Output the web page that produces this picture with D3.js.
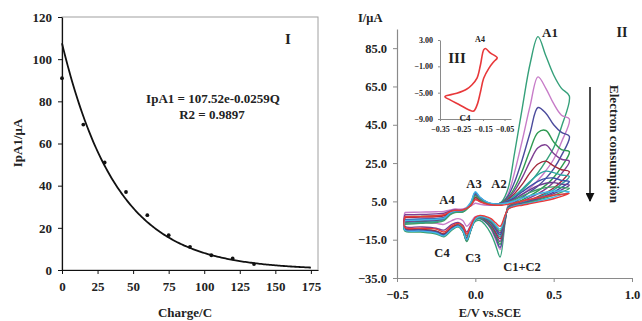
<!DOCTYPE html>
<html>
<head>
<meta charset="utf-8">
<script src="https://cdnjs.cloudflare.com/ajax/libs/d3/7.8.5/d3.min.js"></script>
<style>
  body { margin: 0; background: #fff; }
  svg text { font-family: "Liberation Serif", "Times New Roman", serif; font-weight: bold; fill: #222; }
</style>
</head>
<body>
<div id="chart"></div>
<script>
// ---- panel I : peak current vs charge ----
const charge = [0, 15, 30, 45, 60, 75, 90, 105, 120, 135];
const ipA1 = [91, 69, 51, 37, 26, 16.5, 11, 7, 5.5, 2.8];
const fitA = 107.52, fitK = 0.0259; // IpA1 = 107.52 e^(-0.0259 Q)
const chargeTicks = [0, 25, 50, 75, 100, 125, 150, 175];
const ipTicks = [0, 20, 40, 60, 80, 100, 120];

// ---- panel II : cyclic voltammograms ----
const cvColors = ['#35a07a', '#c77cc8', '#4b4b9c', '#2f9a52', '#7d3e92', '#a32a3c',
                  '#2ba5a2', '#3a4fa8', '#6a3d8f', '#3f9f6a', '#42b5e6', '#e83a3a'];
const eForward = [-0.45, -0.35, -0.25, -0.2, -0.16, -0.13, -0.08, -0.03, 0.0, 0.03, 0.08,
                  0.13, 0.17, 0.21, 0.25, 0.3, 0.35, 0.4, 0.45, 0.5, 0.55, 0.6];
const iForward = [
  [-3, -2.8, -2.5, -2.2, -0.5, 0, 0, 3, 7, 5.5, 3.5, 3, 5, 12, 30, 54, 77, 91, 81, 71, 64, 60],
  [-0.8, -0.6, -0.4, -0.2, 0.5, 1, 1, 2.5, 4, 3.5, 3, 3, 4, 9, 20, 37, 55, 70, 64, 56, 50, 48],
  [-5, -4.5, -4, -3.5, -1, 0, 0, 3.5, 8, 6, 4, 3.5, 4.5, 8, 15, 27, 41, 54, 51, 45, 41, 39],
  [-6, -5.5, -5, -4, -1.5, -0.5, -0.5, 3.5, 8.5, 6, 4, 3.5, 4.5, 7, 12, 21, 32, 41, 42, 36, 32, 31],
  [-2, -1.8, -1.5, -1.2, 0, 0.5, 0.5, 3, 6, 5, 3.5, 3.2, 4, 6.5, 10.5, 17.5, 26, 33, 34.5, 30, 27, 26],
  [-3.5, -3.2, -3, -2.5, -0.5, 0, 0.2, 3, 7, 5.5, 3.8, 3.3, 4, 6, 9, 14, 20, 24.5, 26, 23.5, 21.5, 20.5],
  [-6.5, -6, -5.5, -4.5, -1.5, -0.5, -0.3, 4, 9.5, 7, 4.2, 3.5, 4, 5.5, 8, 11.5, 15.5, 19, 20.8, 20, 18.8, 18],
  [-4.5, -4.2, -4, -3.5, -1, 0, 0.2, 4, 9.5, 7, 4.3, 3.6, 4, 5.2, 7, 10, 13, 15.5, 17, 17.2, 16, 15.3],
  [-5.5, -5.2, -4.8, -4, -1.2, -0.3, 0, 3.5, 8.5, 6.3, 4, 3.4, 3.8, 4.8, 6.3, 8.8, 11.2, 13.2, 14.5, 14.8, 14, 13.5],
  [-7, -6.5, -6, -5, -2, -0.8, -0.5, 3.2, 8, 6, 3.8, 3.2, 3.6, 4.5, 5.8, 7.8, 9.7, 11.2, 12.2, 12.6, 12.2, 11.8],
  [-5, -4.7, -4.3, -3.8, -1, 0, 0.3, 4.5, 10, 7.2, 4.5, 3.7, 3.8, 4.3, 5.2, 6.7, 8, 9, 9.8, 10.3, 10.4, 10],
  [-3, -2.8, -2.5, -2, -0.3, 0.3, 0.5, 2.8, 6, 4.8, 3.5, 3, 3, 3.5, 4.2, 5.2, 6.1, 6.9, 7.6, 8.2, 8.7, 9.2]
];
const eReverse = [0.55, 0.5, 0.45, 0.4, 0.35, 0.3, 0.25, 0.21, 0.19, 0.158, 0.13, 0.1, 0.06,
                  0.03, 0.0, -0.03, -0.055, -0.08, -0.11, -0.15, -0.2, -0.25, -0.35, -0.45];
const iReverse = [
  [44, 33, 26, 20, 15, 11, 7, 3, -6, -24, -18, -12, -7, -5, -5.5, -9, -13, -9, -7, -8.5, -12, -10.5, -9.5, -9],
  [36, 27, 21, 16, 12, 8.5, 5.5, 2.5, -5, -20, -15, -9.5, -5, -3, -3, -6, -8, -5, -4, -5, -7, -6.5, -6, -6],
  [29, 22, 17, 13, 10, 7, 4.5, 2, -5, -19, -14, -9, -5.5, -4, -4.5, -10, -15, -10, -7.5, -9, -12.5, -11, -10, -9.5],
  [23, 17.5, 13.5, 10.5, 8, 5.8, 4, 1.8, -4.5, -17.5, -13, -8.5, -5, -4, -4.5, -10, -15.5, -10.5, -8, -9.5, -13, -11.5, -10.5, -10],
  [19.5, 15, 11.5, 9, 7, 5, 3.5, 1.5, -4, -16, -12, -7.5, -4.5, -3.5, -3.8, -7.5, -11, -7.5, -6, -7, -10, -9, -8.3, -8],
  [15.5, 12, 9.5, 7.5, 5.8, 4.3, 3, 1.3, -3.8, -14.5, -11, -7, -4.3, -3.3, -4, -9, -14, -9.5, -7.5, -8.5, -12, -10.5, -9.5, -9],
  [14, 11, 8.8, 7, 5.5, 4.2, 3, 1.3, -3.5, -13.5, -10, -6.5, -4, -3.4, -4.5, -10, -15, -10, -8, -9.5, -13, -11.5, -10.5, -10],
  [12.3, 9.8, 8, 6.5, 5.2, 4, 2.9, 1.3, -3.3, -12.5, -9.5, -6, -3.8, -3.2, -4.3, -10, -15, -10, -7.8, -9.2, -12.5, -11, -10, -9.5],
  [11, 9, 7.4, 6.1, 4.9, 3.8, 2.8, 1.2, -3, -11.5, -8.8, -5.6, -3.6, -3.1, -4.3, -10.3, -15.5, -10.3, -8, -9.5, -13, -11.5, -10.5, -10],
  [9.8, 8.1, 6.8, 5.6, 4.6, 3.6, 2.7, 1.2, -2.8, -10.5, -8, -5.3, -3.5, -3, -4.5, -10.5, -16, -10.6, -8.3, -10, -13.5, -12, -11, -10.5],
  [8.5, 7.2, 6.1, 5.1, 4.2, 3.4, 2.6, 1.1, -2.6, -9.5, -7.3, -4.8, -3.3, -2.9, -4.3, -10, -15, -10.2, -8, -9.5, -13, -11.5, -10.5, -10],
  [7.6, 6.4, 5.4, 4.6, 3.8, 3, 2.3, 1, -2.2, -8, -6.2, -4, -2.7, -2.3, -3.3, -8, -12, -8, -6.5, -7.8, -11, -9.5, -9, -8.5]
];
const eTicks = [-0.5, 0.0, 0.5, 1.0];
const iTicks = [-35, -15, 5, 25, 45, 65, 85];

// ---- inset III ----
const insetE = [-0.327, -0.272, -0.225, -0.201, -0.178, -0.162, -0.147, -0.139, -0.115, -0.084,
                -0.100, -0.123, -0.147, -0.162, -0.178, -0.194, -0.217, -0.256, -0.303];
const insetI = [-5.6, -5.1, -4.45, -3.8, -2.8, -0.8, 1.5, 1.7, 1.0, 0.3,
                -0.3, -1.3, -2.8, -4.9, -6.9, -7.8, -7.6, -6.9, -6.1];
const insetXTicks = [-0.35, -0.25, -0.15, -0.05];
const insetYTicks = [-9, -5, -1, 3];

const svg = d3.select('#chart').append('svg')
  .attr('width', 642).attr('height', 321);

// ================= panel I =================
const x1 = d3.scaleLinear().domain([0, 180]).range([62, 318]);
const y1 = d3.scaleLinear().domain([0, 120]).range([270, 17]);

svg.append('rect')
  .attr('x', x1(0)).attr('y', y1(120))
  .attr('width', x1(180) - x1(0)).attr('height', y1(0) - y1(120))
  .attr('fill', 'none').attr('stroke', '#a0a0a0').attr('stroke-width', 1);

const ax1 = svg.append('g')
  .attr('transform', 'translate(0,' + y1(0) + ')')
  .call(d3.axisBottom(x1).tickValues(chargeTicks).tickSize(4).tickSizeOuter(0).tickPadding(8));
const ay1 = svg.append('g')
  .attr('transform', 'translate(' + x1(0) + ',0)')
  .call(d3.axisLeft(y1).tickValues(ipTicks).tickSize(4).tickSizeOuter(0).tickPadding(6));
[ax1, ay1].forEach(g => {
  g.select('.domain').attr('stroke', '#111').attr('stroke-width', 1.2);
  g.selectAll('.tick line').attr('stroke', '#111');
  g.selectAll('text').attr('font-size', 13).attr('font-family', 'Liberation Serif').attr('font-weight', 'bold').attr('fill', '#222');
});

const fitQ = d3.range(0, 175.5, 1);
svg.append('path')
  .datum(fitQ)
  .attr('fill', 'none').attr('stroke', '#111').attr('stroke-width', 1.8)
  .attr('d', d3.line().x(q => x1(q)).y(q => y1(fitA * Math.exp(-fitK * q))));

svg.selectAll('.pt')
  .data(charge)
  .enter().append('circle')
  .attr('class', 'pt')
  .attr('cx', d => x1(d))
  .attr('cy', (d, i) => y1(ipA1[i]))
  .attr('r', 1.9)
  .attr('fill', '#111');

svg.append('text').attr('x', 288).attr('y', 44).attr('text-anchor', 'middle')
  .attr('font-size', 15).text('I');
svg.append('text').attr('x', 213).attr('y', 103).attr('text-anchor', 'middle')
  .attr('font-size', 13).text('IpA1 = 107.52e-0.0259Q');
svg.append('text').attr('x', 212).attr('y', 119).attr('text-anchor', 'middle')
  .attr('font-size', 13).text('R2 = 0.9897');
svg.append('text').attr('transform', 'translate(22,143) rotate(-90)')
  .attr('text-anchor', 'middle').attr('font-size', 13).text('IpA1/μA');
svg.append('text').attr('x', 185).attr('y', 317).attr('text-anchor', 'middle')
  .attr('font-size', 13).text('Charge/C');

// ================= panel II =================
const x2 = d3.scaleLinear().domain([-0.5, 1.0]).range([397, 632]);
const y2 = d3.scaleLinear().domain([-35, 95]).range([278, 29]);

const ax2 = svg.append('g')
  .attr('transform', 'translate(0,' + y2(-35) + ')')
  .call(d3.axisBottom(x2).tickValues(eTicks).tickFormat(d3.format('.1f')).tickSize(4).tickSizeOuter(0).tickPadding(8));
const ay2 = svg.append('g')
  .attr('transform', 'translate(' + x2(-0.5) + ',0)')
  .call(d3.axisLeft(y2).tickValues(iTicks).tickFormat(d3.format('.1f')).tickSize(4).tickSizeOuter(0).tickPadding(6));
[ax2, ay2].forEach(g => {
  g.select('.domain').attr('stroke', '#8a8a8a').attr('stroke-width', 1.2);
  g.selectAll('.tick line').attr('stroke', '#8a8a8a');
  g.selectAll('text').attr('font-size', 12.5).attr('font-family', 'Liberation Serif').attr('font-weight', 'bold').attr('fill', '#222');
});

const cvLine = d3.line()
  .x(d => x2(d[0])).y(d => y2(d[1]))
  .curve(d3.curveCatmullRom.alpha(0.5));

iForward.forEach((fw, k) => {
  const pts = eForward.map((e, j) => [e, fw[j]])
    .concat(eReverse.map((e, j) => [e, iReverse[k][j]]));
  pts.push(pts[0]);
  svg.append('path')
    .datum(pts)
    .attr('fill', 'none')
    .attr('stroke', cvColors[k])
    .attr('stroke-width', 1.4)
    .attr('stroke-linejoin', 'round')
    .attr('d', cvLine);
});

svg.append('text').attr('x', 358).attr('y', 22).attr('font-size', 12.5).text('I/μA');
svg.append('text').attr('x', 490).attr('y', 317).attr('text-anchor', 'middle')
  .attr('font-size', 12.5).text('E/V vs.SCE');
svg.append('text').attr('x', 550).attr('y', 37).attr('text-anchor', 'middle').attr('font-size', 13).text('A1');
svg.append('text').attr('x', 622).attr('y', 37).attr('text-anchor', 'middle').attr('font-size', 14).text('II');
svg.append('text').attr('x', 447).attr('y', 204).attr('text-anchor', 'middle').attr('font-size', 12.5).text('A4');
svg.append('text').attr('x', 474).attr('y', 188).attr('text-anchor', 'middle').attr('font-size', 12.5).text('A3');
svg.append('text').attr('x', 499).attr('y', 188).attr('text-anchor', 'middle').attr('font-size', 12.5).text('A2');
svg.append('text').attr('x', 442).attr('y', 257).attr('text-anchor', 'middle').attr('font-size', 12.5).text('C4');
svg.append('text').attr('x', 473).attr('y', 262).attr('text-anchor', 'middle').attr('font-size', 12.5).text('C3');
svg.append('text').attr('x', 522).attr('y', 271).attr('text-anchor', 'middle').attr('font-size', 12.5).text('C1+C2');
svg.append('text').attr('transform', 'translate(610,144) rotate(90)')
  .attr('text-anchor', 'middle').attr('font-size', 13).text('Electron consumpion');

svg.append('defs').append('marker')
  .attr('id', 'arr').attr('viewBox', '0 0 10 10').attr('refX', 9).attr('refY', 5)
  .attr('markerWidth', 6).attr('markerHeight', 6).attr('orient', 'auto')
  .append('path').attr('d', 'M0,0 L10,5 L0,10 z').attr('fill', '#111');
svg.append('line').attr('x1', 590).attr('y1', 87).attr('x2', 590).attr('y2', 201)
  .attr('stroke', '#111').attr('stroke-width', 1.5).attr('marker-end', 'url(#arr)');

// ================= inset III =================
const x3 = d3.scaleLinear().domain([-0.35, -0.02]).range([440, 511]);
const y3 = d3.scaleLinear().domain([-9, 3]).range([119, 40]);

const ax3 = svg.append('g')
  .attr('transform', 'translate(0,' + y3(-9) + ')')
  .call(d3.axisBottom(x3).tickValues(insetXTicks).tickFormat(d3.format('.2f')).tickSize(2).tickSizeOuter(0).tickPadding(5));
const ay3 = svg.append('g')
  .attr('transform', 'translate(' + x3(-0.35) + ',0)')
  .call(d3.axisLeft(y3).tickValues(insetYTicks).tickFormat(d3.format('.2f')).tickSize(2).tickSizeOuter(0).tickPadding(5));
[ax3, ay3].forEach(g => {
  g.select('.domain').attr('stroke', '#8a8a8a');
  g.selectAll('.tick line').attr('stroke', '#8a8a8a');
  g.selectAll('text').attr('font-size', 8).attr('font-family', 'Liberation Serif').attr('font-weight', 'bold').attr('fill', '#222');
});

svg.append('path')
  .datum(insetE.map((e, j) => [e, insetI[j]]))
  .attr('fill', 'none').attr('stroke', '#e8383a').attr('stroke-width', 1.6)
  .attr('d', d3.line().x(d => x3(d[0])).y(d => y3(d[1])).curve(d3.curveCatmullRomClosed.alpha(0.5)));

svg.append('text').attr('x', 457).attr('y', 63).attr('text-anchor', 'middle').attr('font-size', 15).text('III');
svg.append('text').attr('x', 480).attr('y', 42).attr('text-anchor', 'middle').attr('font-size', 8).text('A4');
svg.append('text').attr('x', 465).attr('y', 121).attr('text-anchor', 'middle').attr('font-size', 9).text('C4');
</script>
</body>
</html>
